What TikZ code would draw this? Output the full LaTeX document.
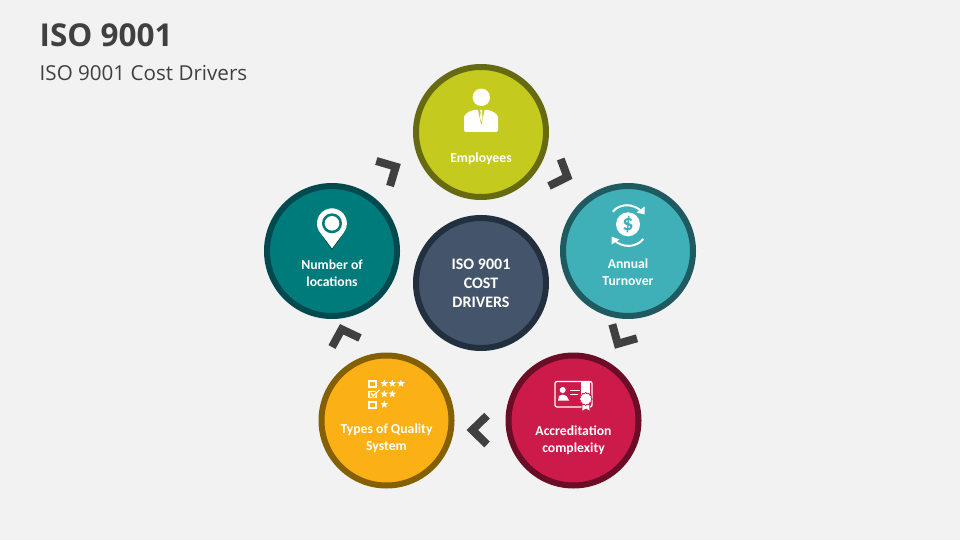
\documentclass[tikz,border=0pt]{standalone}
\usepackage{fontspec}
\setmainfont{Carlito}
\newfontfamily\titlefont{Open Sans}
\usetikzlibrary{shapes.geometric}

\definecolor{page}{HTML}{F2F2F2}
\definecolor{ink}{HTML}{404040}
\definecolor{limefill}{HTML}{C4CB1E}
\definecolor{limering}{HTML}{666A10}
\definecolor{tealfill}{HTML}{40B0B8}
\definecolor{tealring}{HTML}{1F5A60}
\definecolor{redfill}{HTML}{CC1A4B}
\definecolor{redring}{HTML}{6B0D27}
\definecolor{amberfill}{HTML}{FBB016}
\definecolor{amberring}{HTML}{856000}
\definecolor{pinefill}{HTML}{007B7B}
\definecolor{pinering}{HTML}{004A4F}
\definecolor{slatefill}{HTML}{44546A}
\definecolor{slatering}{HTML}{222F3E}

\tikzset{
	disc/.style={circle, inner sep=0pt, outer sep=0pt, minimum size=130pt, line width=6pt},
	caption/.style={text=white, align=center, font=\fontsize{13.7}{17}\selectfont\bfseries},
	chevron/.style={draw=ink, line width=8pt, miter limit=10},
	rating/.style={star, star points=5, star point ratio=2.4, fill=white, inner sep=0pt, minimum size=8pt},
	tickbox/.style={draw=white, line width=1.7pt, fill=none}
}

\begin{document}
\begin{tikzpicture}[x=1pt, y=-1pt]

	\useasboundingbox[fill=page] (0,0) rectangle (960,540);

	% title
	\node[anchor=west, text=ink, inner sep=0pt, font=\titlefont\fontsize{31.5}{36}\selectfont\bfseries] (title) at (39.5,35) {ISO 9001};
	\node[anchor=west, text=ink, inner sep=0pt, font=\titlefont\fontsize{20.6}{24}\selectfont] (subtitle) at (39.5,73) {ISO 9001 Cost Drivers};

	% node definitions
	\node[disc, fill=limefill, draw=limering]    (employees) at (481,132) {};
	\node[disc, fill=tealfill, draw=tealring]     (turnover) at (628,251) {};
	\node[disc, fill=redfill, draw=redring]  (accreditation) at (573.5,420.5) {};
	\node[disc, fill=amberfill, draw=amberring]    (quality) at (386.5,420.5) {};
	\node[disc, fill=pinefill, draw=pinering]    (locations) at (332,251) {};
	\node[disc, fill=slatefill, draw=slatering]     (centre) at (481,283) {};

	% chevrons
	\draw[chevron] (560.7,159) -- (567.4,176.9) -- (549,186);
	\draw[chevron] (612.3,324.3) -- (617.7,343.8) -- (637,338.3);
	\draw[chevron] (487,415.7) -- (472.3,430) -- (487,444.5);
	\draw[chevron] (376.3,161) -- (395.8,166.7) -- (390,186);
	\draw[chevron] (360,338) -- (341.7,329.3) -- (332,347);

	% employee icon
	\fill[white] (481.3,97.3) circle (8.7);
	\fill[white, rounded corners=2pt] (464,132) -- (464,115) -- (472,110) -- (490,110) -- (498,115) -- (498,132) -- cycle;
	\fill[limefill] (477.8,109) -- (484.8,109) -- (481.3,125) -- cycle;
	\fill[white] (480.3,110) -- (482.3,110) -- (482,113) -- (482.5,118) -- (481.3,121.5) -- (480.1,118) -- (480.6,113) -- cycle;

	% dollar icon
	\fill[white] (628,224.3) circle (12);
	\node[text=tealfill, inner sep=0pt, font=\fontsize{22}{22}\selectfont\bfseries] (dollar) at (628,224.5) {\$};
	\draw[white, line width=2pt] (612.7,211.7) .. controls (620,203) and (634,203) .. (642,212);
	\fill[white] (644.5,214.5) -- (644.5,206.5) -- (636.5,212.5) -- cycle;
	\draw[white, line width=2pt] (643.3,239) .. controls (636,248) and (622,248) .. (614,240);
	\fill[white] (611.5,236.5) -- (611.5,244.5) -- (619.5,239.5) -- cycle;

	% certificate icon
	\draw[white, line width=1.3pt, rounded corners=2pt] (555,381.5) rectangle (592,407);
	\fill[white] (581,381) rectangle (590,396);
	\draw[redfill, line width=0.8pt, fill=white] (582,402) -- (589.5,402) -- (590,411.5) -- (586,409) -- (582,411.5) -- cycle;
	\node[star, star points=12, star point ratio=1.2, fill=white, draw=redfill, line width=0.8pt, inner sep=0pt, minimum size=13pt] (seal) at (585.7,399) {};
	\fill[white] (562.7,390) circle (3);
	\fill[white] (558,400.7) -- (559,396) -- (562.7,394.5) -- (566.5,396) -- (569.3,400.7) -- cycle;
	\draw[white, line width=1pt] (570,390.5) -- (580,390.5);
	\draw[white, line width=1pt] (570,394) -- (578,394);

	% checklist icon
	\draw[tickbox] (369.1,380.8) rectangle (375.9,387);
	\draw[tickbox] (369.1,391.5) rectangle (375.9,397.5);
	\draw[tickbox] (369.1,402) rectangle (375.9,408);
	\draw[amberfill, line width=2.6pt] (371,393) -- (373,396) -- (379,390);
	\draw[white, line width=1.3pt] (371,393) -- (373,396) -- (379.5,389.8);
	\node[rating] (star_a) at (384.3,383.5) {};
	\node[rating] (star_b) at (392.3,383.5) {};
	\node[rating] (star_c) at (401,383.5) {};
	\node[rating] (star_d) at (384.3,394) {};
	\node[rating] (star_e) at (392.3,394) {};
	\node[rating] (star_f) at (384.3,404.5) {};

	% location icon
	\fill[black!35!pinefill] (332,250) -- (322,236) -- (342,236) -- cycle;
	\fill[white] (332,248.3) -- (320.5,233) arc[start angle=140, end angle=400, radius=15] -- cycle;
	\fill[pinefill] (332,223.3) circle (10);
	\fill[white] (332,223.3) circle (7.3);

	% captions
	\node[caption] (employees_text) at (481,159) {Employees};
	\node[caption] (turnover_text) at (628,272) {Annual\\Turnover};
	\node[caption] (accreditation_text) at (573.5,440) {Accreditation\\complexity};
	\node[caption] (quality_text) at (386.5,438.5) {Types of Quality\\System};
	\node[caption] (locations_text) at (332,273) {Number of\\locations};
	\node[caption, font=\fontsize{16}{19}\selectfont\bfseries] (centre_text) at (481,283) {ISO 9001\\COST\\DRIVERS};

\end{tikzpicture}
\end{document}
